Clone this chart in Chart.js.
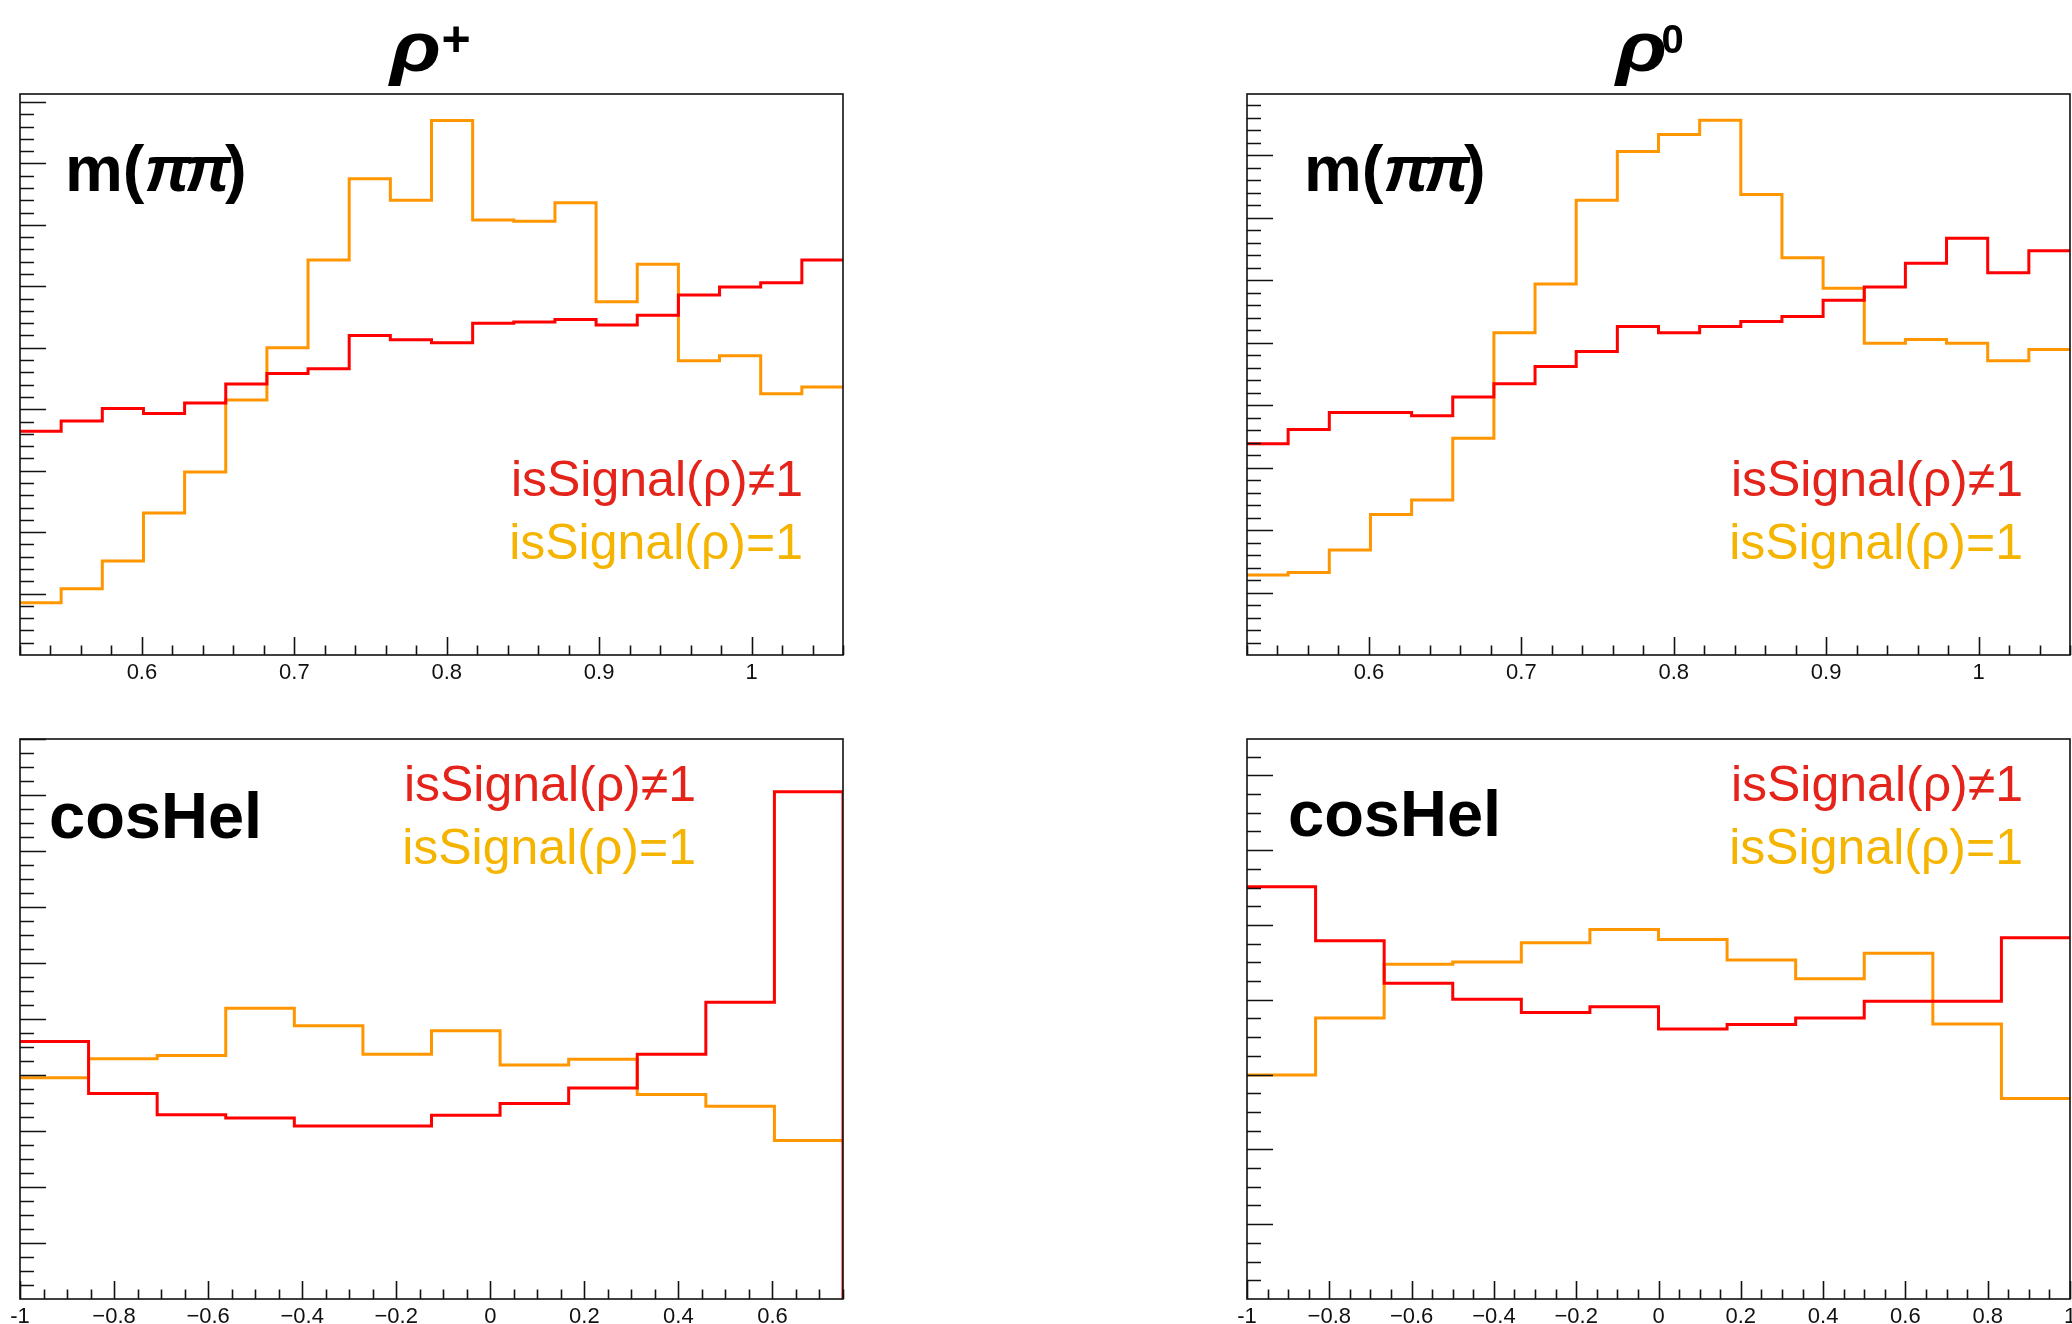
<!DOCTYPE html>
<html>
<head>
<meta charset="utf-8">
<script src="https://cdn.jsdelivr.net/npm/chart.js@4.4.1/dist/chart.umd.min.js"></script>
<style>
  html, body { margin: 0; padding: 0; background: #fff; overflow: hidden; }
  #page { position: relative; width: 2072px; height: 1324px; font-family: "Liberation Sans", Arial, Helvetica, sans-serif; }
  #page canvas { position: absolute; }
  .txt { position: absolute; line-height: 1; white-space: nowrap; }
  .pi { letter-spacing: -6px; }
  .rho { display: inline-block; transform: scaleX(1.2); transform-origin: left bottom; }
  .sup { position: relative; }
</style>
</head>
<body>
<div id="page"></div>
<script>
// binning of the histograms
var massRange = [0.52, 1.06];
var massBins = 20;
var helRangePlus = [-1, 0.75];
var helRangeZero = [-1, 1];
var helBins = 12;

// tick labels
var massTicks = [0.6, 0.7, 0.8, 0.9, 1];
var helTicksPlus = [-1, -0.8, -0.6, -0.4, -0.2, 0, 0.2, 0.4, 0.6];
var helTicksZero = [-1, -0.8, -0.6, -0.4, -0.2, 0, 0.2, 0.4, 0.6, 0.8, 1];

// normalised bin contents
var massPlusBkg = [0.0364, 0.0381, 0.0401, 0.0393, 0.0410, 0.0441, 0.0458, 0.0466, 0.0520, 0.0513,
                   0.0508, 0.0540, 0.0542, 0.0546, 0.0537, 0.0553, 0.0586, 0.0599, 0.0606, 0.0643];
var massPlusSig = [0.0085, 0.0108, 0.0153, 0.0231, 0.0298, 0.0415, 0.0500, 0.0643, 0.0775, 0.0740,
                   0.0870, 0.0708, 0.0706, 0.0736, 0.0575, 0.0636, 0.0479, 0.0487, 0.0425, 0.0436];
var massZeroBkg = [0.0338, 0.0361, 0.0388, 0.0388, 0.0383, 0.0413, 0.0434, 0.0462, 0.0486, 0.0526,
                   0.0516, 0.0526, 0.0534, 0.0542, 0.0568, 0.0589, 0.0627, 0.0667, 0.0612, 0.0647];
var massZeroSig = [0.0128, 0.0132, 0.0168, 0.0225, 0.0248, 0.0347, 0.0516, 0.0594, 0.0728, 0.0806,
                   0.0833, 0.0856, 0.0737, 0.0636, 0.0587, 0.0499, 0.0505, 0.0499, 0.0471, 0.0489];
var helPlusBkg = [0.0920, 0.0734, 0.0658, 0.0646, 0.0618, 0.0618, 0.0656, 0.0698, 0.0754, 0.0874, 0.1060, 0.1812];
var helPlusSig = [0.0790, 0.0858, 0.0870, 0.1038, 0.0976, 0.0874, 0.0958, 0.0836, 0.0856, 0.0730, 0.0688, 0.0566];
var helZeroBkg = [0.1102, 0.0958, 0.0844, 0.0801, 0.0766, 0.0781, 0.0722, 0.0734, 0.0751, 0.0796, 0.0796, 0.0966];
var helZeroSig = [0.0599, 0.0751, 0.0895, 0.0901, 0.0952, 0.0988, 0.0961, 0.0906, 0.0856, 0.0924, 0.0735, 0.0536];

var bkgLine = '#ff0000', sigLine = '#ff9600';
var bkgText = '#e4231a', sigText = '#f5b400';

var panels = [
  { frame: [20, 94, 823, 561], range: massRange, nbins: massBins, ymax: 0.0913, bkg: massPlusBkg, sig: massPlusSig,
    ticks: massTicks, xMajor: 0.1, xMinor: 0.02, yMajor: 0.01, yMinor: 0.002,
    label: 'm(<i class="pi">\u03c0\u03c0</i>)', labelPos: [45, 97], legendPos: [783, 402] },
  { frame: [1247, 94, 823, 561], range: massRange, nbins: massBins, ymax: 0.0898, bkg: massZeroBkg, sig: massZeroSig,
    ticks: massTicks, xMajor: 0.1, xMinor: 0.02, yMajor: 0.01, yMinor: 0.002,
    label: 'm(<i class="pi">\u03c0\u03c0</i>)', labelPos: [57, 97], legendPos: [776, 402] },
  { frame: [20, 739, 823, 560], range: helRangePlus, nbins: helBins, ymax: 0.2, bkg: helPlusBkg, sig: helPlusSig,
    ticks: helTicksPlus, xMajor: 0.2, xMinor: 0.05, yMajor: 0.02, yMinor: 0.005, dropLast: true,
    label: 'cosHel', labelPos: [29, 99], legendPos: [676, 62] },
  { frame: [1247, 739, 823, 560], range: helRangeZero, nbins: helBins, ymax: 0.1497, bkg: helZeroBkg, sig: helZeroSig,
    ticks: helTicksZero, xMajor: 0.2, xMinor: 0.05, yMajor: 0.02, yMinor: 0.005,
    label: 'cosHel', labelPos: [41, 97], legendPos: [776, 62] }
];

var titles = [
  { sup: '+', supSize: 50, raise: 15, gap: 9, left: 390 },
  { sup: '0', supSize: 40, raise: 18, gap: 3, left: 1616 }
];

function histPoints(range, n, vals, dropLast) {
  var w = (range[1] - range[0]) / n;
  var pts = vals.map(function (v, i) { return { x: range[0] + i * w, y: v }; });
  pts.push({ x: range[1], y: vals[vals.length - 1] });
  if (dropLast) pts.push({ x: range[1], y: 0 });
  return pts;
}

function fmtTick(v) {
  var r = Math.round(v * 100) / 100;
  if (r === -1) return '-1';
  if (r < 0) return '\u2212' + String(-r);
  return String(r);
}

// ROOT-style frame with inward ticks
var frameTicks = {
  id: 'frameTicks',
  afterDraw: function (chart) {
    var o = chart.options.plugins.frameTicks;
    var a = chart.chartArea, ctx = chart.ctx;
    var xs = chart.scales.x, ys = chart.scales.y;
    ctx.save();
    ctx.strokeStyle = '#111';
    ctx.lineWidth = 1.6;
    ctx.beginPath();
    var v, k, px, len;
    for (k = Math.ceil(xs.min / o.xMinor - 1e-6); k * o.xMinor <= xs.max + 1e-9; k++) {
      v = k * o.xMinor;
      px = Math.round(xs.getPixelForValue(v)) + 0.5;
      len = Math.abs(v / o.xMajor - Math.round(v / o.xMajor)) < 1e-6 ? 18 : 9.5;
      ctx.moveTo(px, a.bottom);
      ctx.lineTo(px, a.bottom - len);
    }
    for (k = 1; k * o.yMinor <= ys.max + 1e-9; k++) {
      v = k * o.yMinor;
      px = Math.round(ys.getPixelForValue(v)) + 0.5;
      len = Math.abs(v / o.yMajor - Math.round(v / o.yMajor)) < 1e-6 ? 26 : 14;
      ctx.moveTo(a.left, px);
      ctx.lineTo(a.left + len, px);
    }
    ctx.stroke();
    ctx.strokeRect(a.left, a.top, a.right - a.left, a.bottom - a.top);
    ctx.restore();
  }
};

var page = document.getElementById('page');
var padL = 30, padR = 30, padT = 10, axisH = 40;

function addText(html, left, base, size, css) {
  var d = document.createElement('div');
  d.className = 'txt';
  d.innerHTML = html;
  d.style.left = left + 'px';
  d.style.top = (base - 0.8465 * size) + 'px';
  d.style.fontSize = size + 'px';
  if (css) d.style.cssText += css;
  page.appendChild(d);
  return d;
}

panels.forEach(function (p) {
  var cv = document.createElement('canvas');
  cv.width = p.frame[2] + padL + padR;
  cv.height = p.frame[3] + padT + axisH;
  page.appendChild(cv);
  var tickVals = p.ticks;
  var chart = new Chart(cv, {
    type: 'scatter',
    data: {
      datasets: [
        { label: 'isSignal(\u03c1)\u22601', data: histPoints(p.range, p.nbins, p.bkg, p.dropLast),
          borderColor: bkgLine, borderWidth: 3, showLine: true, stepped: true, pointRadius: 0, fill: false },
        { label: 'isSignal(\u03c1)=1', data: histPoints(p.range, p.nbins, p.sig, false),
          borderColor: sigLine, borderWidth: 3, showLine: true, stepped: true, pointRadius: 0, fill: false }
      ]
    },
    options: {
      responsive: false,
      animation: false,
      devicePixelRatio: 1,
      layout: { padding: { left: padL, right: padR, top: padT, bottom: 0 } },
      plugins: {
        legend: { display: false },
        tooltip: { enabled: false },
        frameTicks: { xMajor: p.xMajor, xMinor: p.xMinor, yMajor: p.yMajor, yMinor: p.yMinor }
      },
      scales: {
        x: {
          type: 'linear', min: p.range[0], max: p.range[1],
          grid: { display: false, drawTicks: false },
          border: { display: false },
          afterBuildTicks: function (s) { s.ticks = tickVals.map(function (v) { return { value: v }; }); },
          afterFit: function (s) { s.height = axisH; },
          ticks: {
            autoSkip: false, maxRotation: 0, minRotation: 0, padding: 5,
            color: '#111', font: { family: 'Liberation Sans', size: 22 },
            callback: function (v) { return fmtTick(v); }
          }
        },
        y: { type: 'linear', display: false, min: 0, max: p.ymax }
      }
    },
    plugins: [frameTicks]
  });
  var ca = chart.chartArea;
  cv.style.left = (p.frame[0] - ca.left) + 'px';
  cv.style.top = (p.frame[1] - ca.top) + 'px';

  // big label in the top-left corner
  addText('<b>' + p.label + '</b>', p.frame[0] + p.labelPos[0], p.frame[1] + p.labelPos[1], 65);
  // legend text, right aligned
  var lx = p.frame[0] + p.legendPos[0], ly = p.frame[1] + p.legendPos[1];
  addText('isSignal(\u03c1)\u22601', lx, ly, 50, 'transform:translateX(-100%);color:' + bkgText + ';');
  addText('isSignal(\u03c1)=1', lx, ly + 63, 50, 'transform:translateX(-100%);color:' + sigText + ';');
});

titles.forEach(function (t) {
  addText('<b><i class="rho" style="margin-right:' + t.gap + 'px">\u03c1</i><span class="sup" style="font-size:' +
          t.supSize + 'px;top:-' + t.raise + 'px">' + t.sup + '</span></b>', t.left, 71, 70);
});
</script>
</body>
</html>
